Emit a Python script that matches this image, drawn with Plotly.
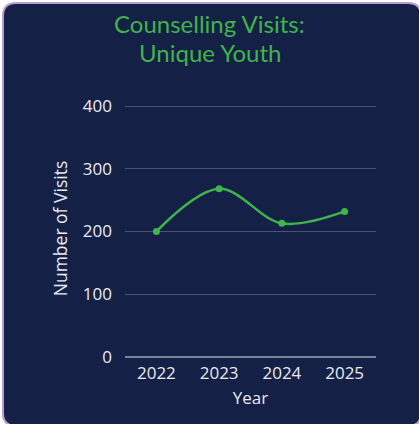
import plotly.graph_objects as go

years = ["2022", "2023", "2024", "2025"]
visits = [200, 268, 213, 232]
y_ticks = [0, 100, 200, 300, 400]
title_lines = ["Counselling Visits:", "Unique Youth"]

W, H = 419, 424
L, R, T, B = 125, 43, 100, 67
pw, ph = W - L - R, H - T - B
# value 400 sits at pixel row 106
y_top = 400 * ph / (H - B - 106)

def px(x):
    return (x - L) / pw

def py(y):
    return (H - B - y) / ph

# rounded card background
x0, x1, y0, y1, r = 3, 421, 3, 426, 13
path = (
    f"M {px(x0+r)} {py(y0)} L {px(x1-r)} {py(y0)} Q {px(x1)} {py(y0)} {px(x1)} {py(y0+r)} "
    f"L {px(x1)} {py(y1-r)} Q {px(x1)} {py(y1)} {px(x1-r)} {py(y1)} "
    f"L {px(x0+r)} {py(y1)} Q {px(x0)} {py(y1)} {px(x0)} {py(y1-r)} "
    f"L {px(x0)} {py(y0+r)} Q {px(x0)} {py(y0)} {px(x0+r)} {py(y0)} Z"
)

green = "#3fb44a"
tfont = "Lato, Open Sans, sans-serif"
font = "Open Sans, sans-serif"
txt = "#e9ebf2"

fig = go.Figure()
fig.add_trace(go.Scatter(
    x=years, y=visits, mode="lines+markers",
    line=dict(color=green, width=2.5, shape="spline", smoothing=1.0),
    marker=dict(color=green, size=7),
    hoverinfo="skip",
))

title_y = [24, 52]
annotations = [
    dict(text=t, x=px(209.5), y=py(yy), xref="paper", yref="paper",
         xanchor="center", yanchor="middle", showarrow=False,
         font=dict(family=tfont, size=24, color=green))
    for t, yy in zip(title_lines, title_y)
]

fig.update_layout(
    width=W, height=H,
    margin=dict(l=L, r=R, t=T, b=B, pad=0),
    paper_bgcolor="white",
    plot_bgcolor="rgba(0,0,0,0)",
    showlegend=False,
    shapes=[dict(type="path", path=path, xref="paper", yref="paper",
                 fillcolor="#152047", line=dict(color="#b89ccf", width=2), layer="below")],
    annotations=annotations,
    font=dict(family=font, color=txt),
    xaxis=dict(
        type="category", range=[-0.5, 3.5], showgrid=False, zeroline=False, showline=False,
        ticks="", tickfont=dict(size=17, color=txt), ticklabelstandoff=4,
        title=dict(text="Year", font=dict(size=17, color=txt), standoff=9),
    ),
    yaxis=dict(
        range=[0, y_top], tickvals=y_ticks, showgrid=True, gridcolor="#4a5274", gridwidth=1,
        zeroline=True, zerolinecolor="#7c8299", zerolinewidth=2, showline=False,
        ticks="", tickfont=dict(size=17, color=txt), ticklabelstandoff=12,
        title=dict(text="Number of Visits", font=dict(size=17.5, color=txt), standoff=10),
    ),
)

fig.write_html("out.html", config={"displayModeBar": False},
               post_script="document.body.style.margin='0';document.body.style.overflow='hidden';")
